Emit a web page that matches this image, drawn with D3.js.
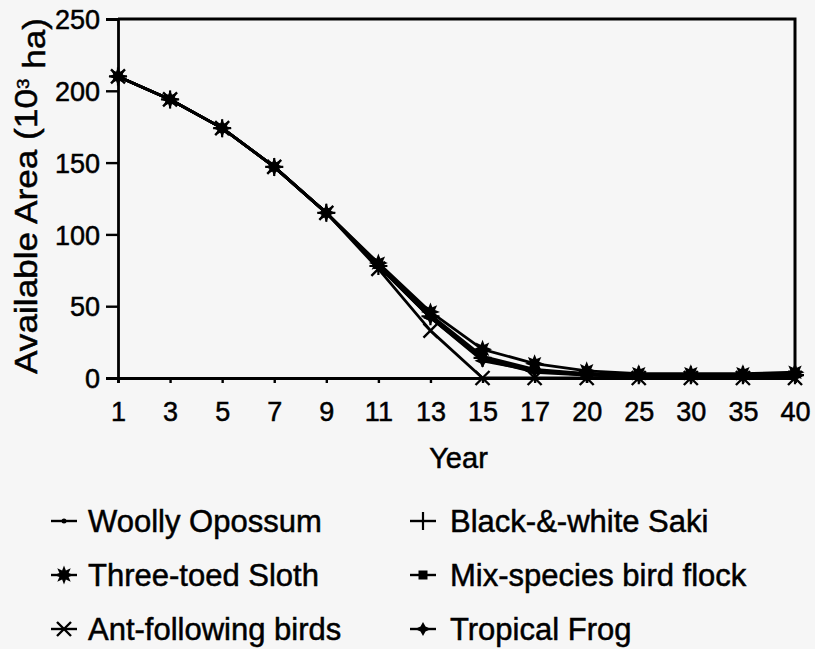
<!DOCTYPE html>
<html>
<head>
<meta charset="utf-8">
<script src="https://cdn.jsdelivr.net/npm/d3@7"></script>
<style>
  html, body { margin: 0; padding: 0; background: #f6f6f6; }
  svg { display: block; }
  text { font-family: "Liberation Sans", Arial, Helvetica, sans-serif; fill: #000; stroke: #000; stroke-width: 0.5px; }
</style>
</head>
<body>
<svg id="chart" width="815" height="649"></svg>
<script>
// ---- Data ----
const years = ["1","3","5","7","9","11","13","15","17","20","25","30","35","40"];
const yTicks = [0, 50, 100, 150, 200, 250];

const woollyOpossum   = [210,194,174,147,115,78,42,13,4,2,1,1,1,1];
const blackWhiteSaki  = [210,194,174,147,115,78,43,14,5,3,2,2,2,2];
const mixSpeciesFlock = [210,194,174,147,115,79,44,15,6,3,2,2,2,3];
const antFollowing    = [210,194,174,147,115,76,33,0,0,0,0,0,0,0];
const tropicalFrog    = [210,194,174,147,115,78,42,12,5,2,1,1,1,1];
const threeToedSloth  = [210,194,174,147,115,80,46,20,10,5,3,3,3,4];

const seriesNames = ["Woolly Opossum","Black-&-white Saki","Three-toed Sloth","Mix-species bird flock","Ant-following birds","Tropical Frog"];
const seriesValues = [woollyOpossum, blackWhiteSaki, threeToedSloth, mixSpeciesFlock, antFollowing, tropicalFrog];
const seriesMarkers = ["dot","plus","star","square","cross","diamond"];

// ---- Layout ----
const svg = d3.select("#chart");
const L = 118, R = 795, T = 19, B = 378;
const x = d3.scalePoint().domain(years).range([L, R]);
const y = d3.scaleLinear().domain([0, 250]).range([B, T]);

function drawMarker(g, type, cx, cy) {
  const s = g.append("g").attr("transform", `translate(${cx},${cy})`);
  if (type === "dot") {
    s.append("circle").attr("r", 2.5).attr("fill", "#000");
  } else if (type === "plus") {
    s.append("path").attr("d", "M-9,0H9M0,-9V9").attr("stroke", "#000").attr("stroke-width", 2.2);
  } else if (type === "cross") {
    s.append("path").attr("d", "M-7,-7L7,7M-7,7L7,-7").attr("stroke", "#000").attr("stroke-width", 2.4);
  } else if (type === "square") {
    s.append("rect").attr("x", -4.5).attr("y", -4.5).attr("width", 9).attr("height", 9).attr("fill", "#000");
  } else if (type === "diamond") {
    s.append("path").attr("d", "M0,-7L2.5,-2.5L8,0L2.5,2.5L0,7L-2.5,2.5L-8,0L-2.5,-2.5Z").attr("fill", "#000");
  } else if (type === "star") {
    const pts = [];
    for (let i = 0; i < 16; i++) {
      const r = i % 2 === 0 ? 9.5 : 5;
      const a = Math.PI * i / 8 - Math.PI / 2;
      pts.push([r * Math.cos(a), r * Math.sin(a)]);
    }
    s.append("path").attr("d", "M" + pts.map(p => p.join(",")).join("L") + "Z").attr("fill", "#000");
  }
}

// ---- Axes ----
const yAxis = svg.append("g").attr("transform", `translate(${L},0)`)
  .call(d3.axisLeft(y).tickValues(yTicks).tickSize(12).tickPadding(6));
yAxis.selectAll("text").style("font-size", "27px").attr("dy", "0.36em");

const xAxis = svg.append("g").attr("transform", `translate(0,${B})`)
  .call(d3.axisBottom(x).tickSize(5).tickPadding(19));
xAxis.selectAll("text").style("font-size", "27px");

svg.selectAll(".domain").attr("stroke", "#000").attr("stroke-width", 2.8);
svg.selectAll(".tick line").attr("stroke", "#000").attr("stroke-width", 2.4);

svg.append("path")
  .attr("d", `M${L},${T}H${R}V${B}`)
  .attr("fill", "none").attr("stroke", "#000").attr("stroke-width", 3);

// ---- Lines & markers ----
const line = d3.line().x((d, i) => x(years[i])).y(d => y(d));
const order = [0, 1, 3, 5, 4, 2];
order.forEach(k => {
  svg.append("path").datum(seriesValues[k]).attr("d", line)
    .attr("fill", "none").attr("stroke", "#000").attr("stroke-width", 2.8)
    .attr("stroke-linejoin", "round");
});
order.forEach(k => {
  const g = svg.append("g");
  seriesValues[k].forEach((v, i) => drawMarker(g, seriesMarkers[k], x(years[i]), y(v)));
});

// ---- Titles ----
svg.append("text").attr("x", (L + R) / 2 + 2).attr("y", 468).attr("text-anchor", "middle")
  .style("font-size", "29px").text("Year");

const yt = svg.append("text").attr("transform", `translate(37,196) rotate(-90)`)
  .attr("text-anchor", "middle").style("font-size", "32px")
  .attr("textLength", 356).attr("lengthAdjust", "spacingAndGlyphs");
yt.append("tspan").text("Available Area (10");
yt.append("tspan").attr("dy", "-0.5em").style("font-size", "17px").text("3");
yt.append("tspan").attr("dy", "0.5em").text(" ha)");

// ---- Legend ----
const legCols = [{ mx: 64, tx: 88 }, { mx: 423, tx: 450 }];
const legRows = [532, 586, 640];
seriesNames.forEach((name, k) => {
  const col = legCols[k % 2], row = legRows[Math.floor(k / 2)];
  const cy = row - 11;
  const g = svg.append("g");
  g.append("line").attr("x1", col.mx - 13).attr("x2", col.mx + 13).attr("y1", cy).attr("y2", cy)
    .attr("stroke", "#000").attr("stroke-width", 2.4);
  drawMarker(g, seriesMarkers[k], col.mx, cy);
  g.append("text").attr("x", col.tx).attr("y", row).style("font-size", "31px").text(name);
});
</script>
</body>
</html>
